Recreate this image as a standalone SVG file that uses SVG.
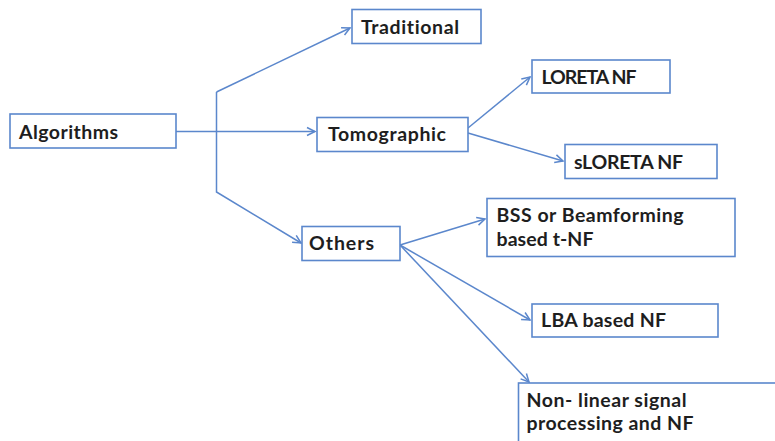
<svg xmlns="http://www.w3.org/2000/svg" width="775" height="441" viewBox="0 0 775 441">
<style>
.box{fill:#fff;stroke:#5b87cc;stroke-width:1.6}
.t{font-family:Lato,"Liberation Sans",sans-serif;font-weight:bold;font-size:19.5px;fill:#1e1e1e;font-variant-ligatures:none}
.c{fill:none;stroke:#5b87cc;stroke-width:1.5}
</style>
<defs>
<marker id="a" markerWidth="12" markerHeight="12" refX="9" refY="5" orient="auto" markerUnits="userSpaceOnUse" viewBox="0 0 12 10">
<path d="M1,1 L9,5 L1,9" fill="none" stroke="#5b87cc" stroke-width="1.5"/>
</marker>
</defs>
<rect width="775" height="441" fill="#fff"/>
<g id="connectors">
<path class="c" d="M176,131.5 L315,131.5" marker-end="url(#a)"/>
<path class="c" d="M216.5,92 L350,28" marker-end="url(#a)"/>
<path class="c" d="M216.5,92 L216.5,192 L301,243" marker-end="url(#a)"/>
<path class="c" d="M468,128 L530,77" marker-end="url(#a)"/>
<path class="c" d="M468,133 L563,161" marker-end="url(#a)"/>
<path class="c" d="M400,245 L485,219" marker-end="url(#a)"/>
<path class="c" d="M400,245 L530,320" marker-end="url(#a)"/>
<path class="c" d="M400,245 L529,382" marker-end="url(#a)"/>
</g>
<g id="algorithms"><rect class="box" x="10" y="114" width="166" height="34"/><text class="t" x="19" y="138.5" textLength="99">Algorithms</text></g>
<g id="traditional"><rect class="box" x="352" y="9.5" width="129" height="34"/><text class="t" x="361" y="33.5" textLength="98">Traditional</text></g>
<g id="tomographic"><rect class="box" x="317" y="117.5" width="151" height="34"/><text class="t" x="328" y="140.5" textLength="118">Tomographic</text></g>
<g id="loreta"><rect class="box" x="532" y="60" width="138" height="33"/><text class="t" x="541.5" y="83.5" textLength="95">LORETA NF</text></g>
<g id="sloreta"><rect class="box" x="565" y="144.5" width="152" height="34"/><text class="t" x="574" y="168.5" textLength="109">sLORETA NF</text></g>
<g id="others"><rect class="box" x="302" y="226.5" width="98" height="34"/><text class="t" x="309" y="249.5" textLength="65">Others</text></g>
<g id="bss"><rect class="box" x="487" y="198.5" width="248" height="58"/><text class="t" x="496.5" y="222" textLength="187">BSS or Beamforming</text><text class="t" x="496.5" y="245.5" textLength="97">based t-NF</text></g>
<g id="lba"><rect class="box" x="532" y="304" width="186" height="33"/><text class="t" x="541" y="327" textLength="125">LBA based NF</text></g>
<g id="nonlinear"><rect class="box" x="518.5" y="383" width="270" height="80"/><text class="t" x="526.5" y="407" textLength="160">Non- linear signal</text><text class="t" x="526.5" y="429.5" textLength="167">processing and NF</text></g>
</svg>
